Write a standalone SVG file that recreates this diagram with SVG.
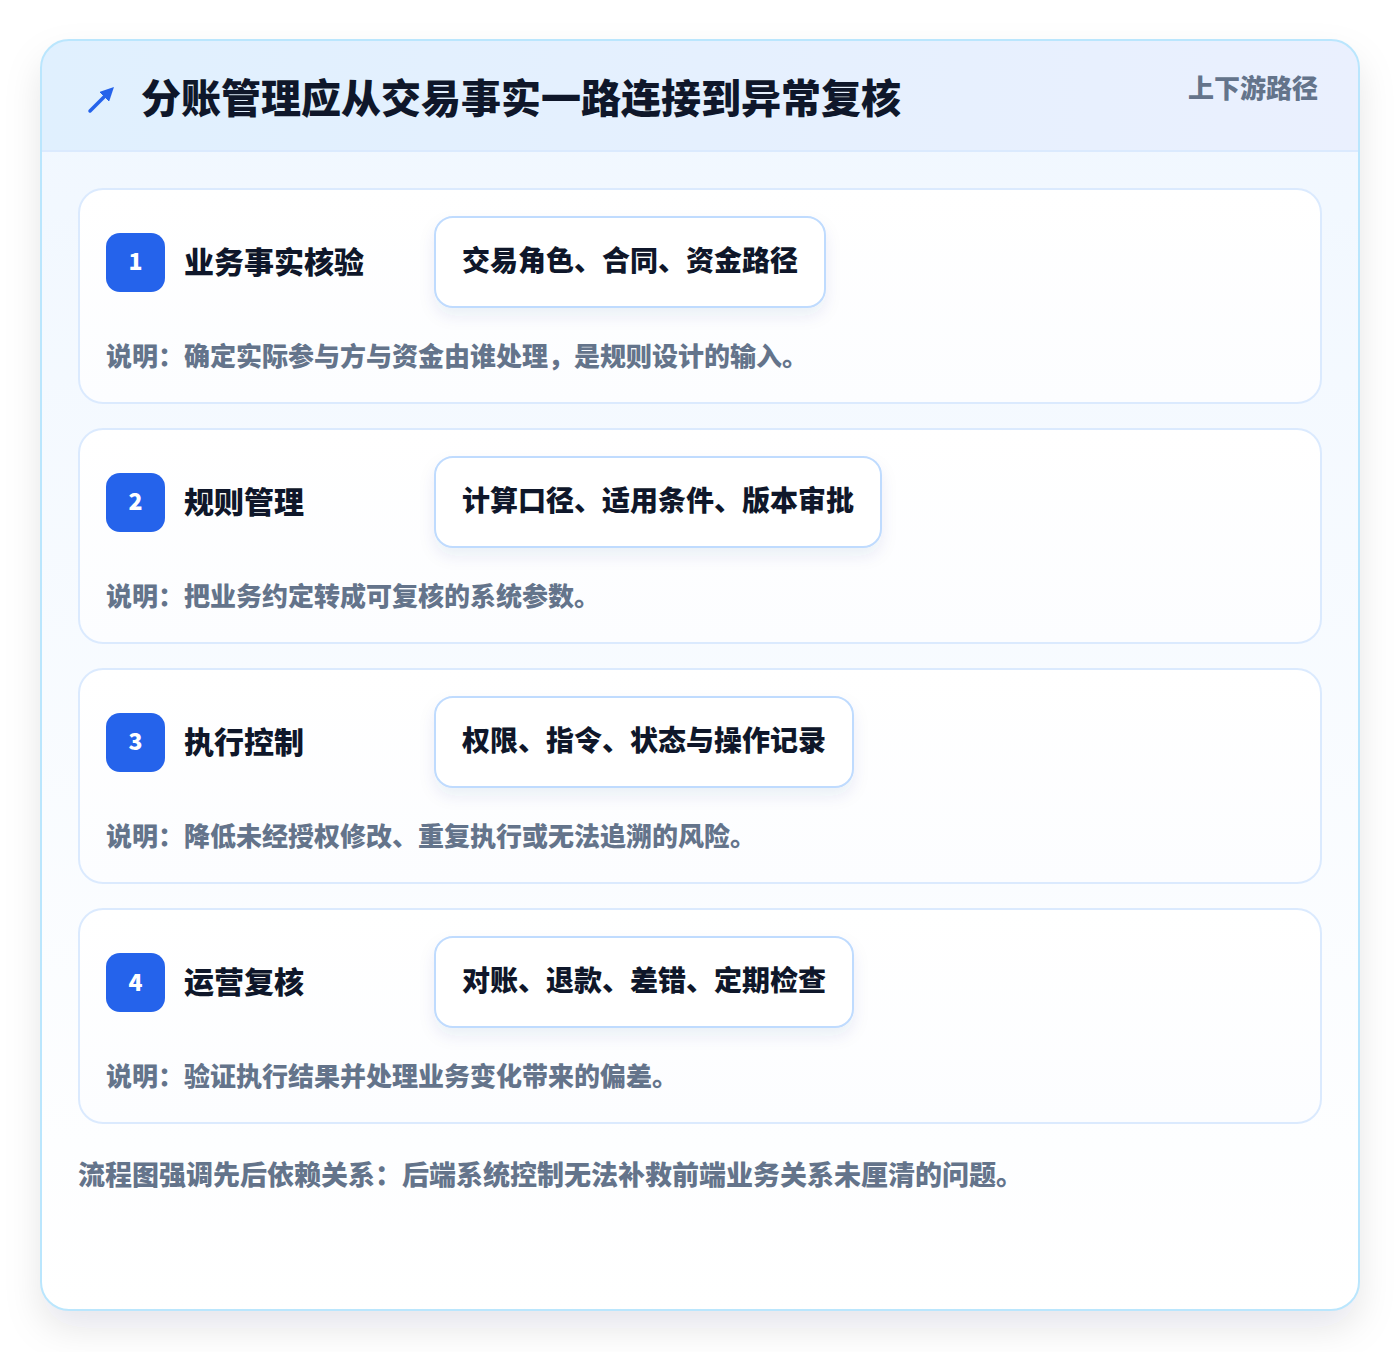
<svg xmlns="http://www.w3.org/2000/svg" width="1400" height="1352" viewBox="0 0 1400 1352">
<defs>
<style>
text{font-family:"Noto Sans CJK SC","Noto Sans",sans-serif;font-weight:900}
.title{font-size:40px;fill:#0f172a}
.tag{font-size:26px;fill:#64748b}
.card{fill:url(#cardGrad);stroke:#dbeafe;stroke-width:2}
.badge{fill:#2563eb}
.num{font-size:23px;fill:#ffffff;text-anchor:middle}
.stitle{font-size:30px;fill:#0f172a}
.pill{fill:#ffffff;stroke:#bfdbfe;stroke-width:2}
.ptext{font-size:28px;fill:#0f172a}
.desc{font-size:26px;fill:#64748b}
.foot{font-size:27px;fill:#64748b}
</style>
<linearGradient id="bodyGrad" x1="0" y1="0" x2="0" y2="1">
<stop offset="0" stop-color="#f0f7ff"/>
<stop offset="1" stop-color="#ffffff"/>
</linearGradient>
<linearGradient id="headGrad" x1="0" y1="0" x2="1" y2="0">
<stop offset="0" stop-color="#e0f0fe"/>
<stop offset="1" stop-color="#eaf0fe"/>
</linearGradient>
<linearGradient id="cardGrad" x1="0" y1="0" x2="0" y2="1">
<stop offset="0" stop-color="#ffffff"/>
<stop offset="1" stop-color="#fcfdff"/>
</linearGradient>
<filter id="outerShadow" x="-10%" y="-10%" width="120%" height="125%">
<feDropShadow dx="0" dy="18" stdDeviation="18" flood-color="#0f172a" flood-opacity="0.10"/>
</filter>
<filter id="pillShadow" x="-10%" y="-30%" width="120%" height="170%">
<feDropShadow dx="0" dy="8" stdDeviation="8" flood-color="#1e3a8a" flood-opacity="0.08"/>
</filter>
<clipPath id="outerClip">
<rect x="41" y="40" width="1318" height="1270" rx="28"/>
</clipPath>
<marker id="arrowHead" viewBox="0 0 10 10" refX="6" refY="5" markerWidth="4" markerHeight="4" orient="auto">
<path d="M0,0 L10,5 L0,10 z" fill="#2563eb"/>
</marker>
</defs>
<rect x="0" y="0" width="1400" height="1352" fill="#ffffff"/>
<g id="frame">
<rect x="41" y="40" width="1318" height="1270" rx="28" fill="url(#bodyGrad)" filter="url(#outerShadow)"/>
<g clip-path="url(#outerClip)">
<rect x="41" y="40" width="1318" height="111" fill="url(#headGrad)"/>
<line x1="41" y1="151" x2="1359" y2="151" stroke="#dbeafe" stroke-width="2"/>
</g>
<rect x="41" y="40" width="1318" height="1270" rx="28" fill="none" stroke="#bae6fd" stroke-width="2"/>
</g>
<g id="header">
<line x1="90" y1="111" x2="110" y2="91" stroke="#2563eb" stroke-width="3.5" stroke-linecap="round" marker-end="url(#arrowHead)"/>
<text class="title" x="141" y="113">分账管理应从交易事实一路连接到异常复核</text>
<text class="tag" x="1318" y="98" text-anchor="end">上下游路径</text>
</g>
<g id="step1">
<rect class="card" x="79" y="189" width="1242" height="214" rx="24"/>
<rect class="badge" x="106" y="233" width="59" height="59" rx="14"/>
<text class="num" x="135.5" y="270">1</text>
<text class="stitle" x="184" y="273">业务事实核验</text>
<rect class="pill" x="435" y="217" width="390" height="90" rx="18" filter="url(#pillShadow)"/>
<text class="ptext" x="462" y="271">交易角色、合同、资金路径</text>
<text class="desc" x="106" y="366">说明：确定实际参与方与资金由谁处理，是规则设计的输入。</text>
</g>
<g id="step2">
<rect class="card" x="79" y="429" width="1242" height="214" rx="24"/>
<rect class="badge" x="106" y="473" width="59" height="59" rx="14"/>
<text class="num" x="135.5" y="510">2</text>
<text class="stitle" x="184" y="513">规则管理</text>
<rect class="pill" x="435" y="457" width="446" height="90" rx="18" filter="url(#pillShadow)"/>
<text class="ptext" x="462" y="511">计算口径、适用条件、版本审批</text>
<text class="desc" x="106" y="606">说明：把业务约定转成可复核的系统参数。</text>
</g>
<g id="step3">
<rect class="card" x="79" y="669" width="1242" height="214" rx="24"/>
<rect class="badge" x="106" y="713" width="59" height="59" rx="14"/>
<text class="num" x="135.5" y="750">3</text>
<text class="stitle" x="184" y="753">执行控制</text>
<rect class="pill" x="435" y="697" width="418" height="90" rx="18" filter="url(#pillShadow)"/>
<text class="ptext" x="462" y="751">权限、指令、状态与操作记录</text>
<text class="desc" x="106" y="846">说明：降低未经授权修改、重复执行或无法追溯的风险。</text>
</g>
<g id="step4">
<rect class="card" x="79" y="909" width="1242" height="214" rx="24"/>
<rect class="badge" x="106" y="953" width="59" height="59" rx="14"/>
<text class="num" x="135.5" y="991">4</text>
<text class="stitle" x="184" y="993">运营复核</text>
<rect class="pill" x="435" y="937" width="418" height="90" rx="18" filter="url(#pillShadow)"/>
<text class="ptext" x="462" y="991">对账、退款、差错、定期检查</text>
<text class="desc" x="106" y="1086">说明：验证执行结果并处理业务变化带来的偏差。</text>
</g>
<g id="connectors"></g>
<g id="footer">
<text class="foot" x="78" y="1185">流程图强调先后依赖关系：后端系统控制无法补救前端业务关系未厘清的问题。</text>
</g>
</svg>
